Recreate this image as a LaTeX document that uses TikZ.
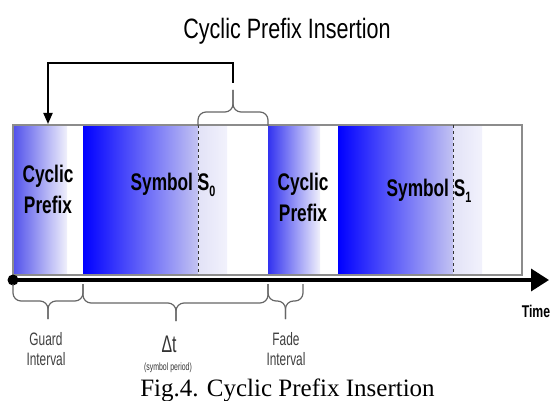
\documentclass[tikz,border=0pt]{standalone}
\usepackage{fontspec}
\setmainfont{Liberation Serif}
\newfontfamily\nar[FakeStretch=0.72]{Liberation Sans}
\newfontfamily\narb[FakeStretch=0.66]{Liberation Sans}
\newfontfamily\nart[FakeStretch=0.77]{Liberation Sans}
\usetikzlibrary{arrows.meta}
\definecolor{cpL}{RGB}{80,80,235}
\definecolor{cpLb}{RGB}{50,50,240}
\definecolor{cpR}{RGB}{240,240,251}
\definecolor{sR}{RGB}{195,195,242}
\definecolor{sRa}{RGB}{226,226,247}
\definecolor{sRb}{RGB}{242,242,252}
\begin{document}
\begin{tikzpicture}[x=1pt,y=-1pt,
  lbl/.style={font=\nar\bfseries\fontsize{24}{28}\selectfont, inner sep=0, anchor=base},
  sublbl/.style={font=\narb\fontsize{18}{20}\selectfont, text=black!75, inner sep=0, anchor=base},
  brc/.style={draw=black!60, line width=1.2pt, rounded corners=8pt},
  dashline/.style={dashed, draw=black!80, line width=0.7pt}]
\useasboundingbox (0,0) rectangle (551,401);
% title
\node[font=\nart\fontsize{28}{30}\selectfont, anchor=base, inner sep=0] (title) at (287,39) {Cyclic Prefix Insertion};
% blocks
\shade[left color=cpL, right color=cpR] (13,125) rectangle (67,275);
\shade[left color=blue, right color=sR] (83,125) rectangle (198,275);
\shade[left color=sRa, right color=sRb] (198,125) rectangle (227,275);
\shade[left color=cpLb, right color=cpR] (268,125) rectangle (320,275);
\shade[left color=blue, right color=sR] (338,125) rectangle (453,275);
\shade[left color=sRa, right color=sRb] (453,125) rectangle (482,275);
\draw[black!45, line width=1.5pt] (13,125) rectangle (522,275);
\draw[dashline] (198,125) -- (198,275);
\draw[dashline] (453,125) -- (453,275);
% labels in blocks
\node[lbl] (cp1a) at (48,182) {Cyclic};
\node[lbl] (cp1b) at (48,213) {Prefix};
\node[lbl] (s0) at (173,190) {Symbol S\raisebox{-0.28em}{\fontsize{15}{15}\selectfont 0}};
\node[lbl] (cp2a) at (303,190) {Cyclic};
\node[lbl] (cp2b) at (303,221) {Prefix};
\node[lbl] (s1) at (429,196) {Symbol S\raisebox{-0.28em}{\fontsize{15}{15}\selectfont 1}};
% top brace and arrow
\draw[brc] (198,126) |- (233,112) -- (233,90);
\draw[brc] (268,126) |- (233,112) -- (233,90);
\coordinate (btip) at (233,83);
\coordinate (cptop) at (48,124);
\draw[line width=2pt, -{Triangle[length=11pt,width=9pt]}] (btip) -- ++(0,-20) -| (cptop);
% time axis
\node[circle, fill=black, minimum size=11pt, inner sep=0] (origin) at (13,280) {};
\coordinate (tend) at (549,280);
\draw[line width=3.5pt, -{Triangle[length=18pt,width=22pt]}] (origin.center) -- (tend);
\node[font=\nar\bfseries\fontsize{17}{19}\selectfont, anchor=base, inner sep=0] (time) at (536,317) {Time};
% bottom braces
\draw[brc] (13,284) |- (48,301) -- (48,319);
\draw[brc] (83,284) |- (48,301) -- (48,319);
\draw[brc] (83,284) |- (176,303) -- (176,321);
\draw[brc] (268,284) |- (176,303) -- (176,321);
\draw[brc] (268,284) |- (285.5,301) -- (285.5,319);
\draw[brc] (303,284) |- (285.5,301) -- (285.5,319);
% bottom labels
\node[sublbl] (ga) at (46,345) {Guard};
\node[sublbl] (gb) at (46,365) {Interval};
\node[font=\narb\fontsize{24}{26}\selectfont, text=black!80, anchor=base, inner sep=0] (dt) at (169,352) {Δt};
\node[font=\narb\fontsize{10.5}{12}\selectfont, text=black!80, anchor=base, inner sep=0] (sp) at (168,370) {(symbol period)};
\node[sublbl] (fa) at (286,345) {Fade};
\node[sublbl] (fb) at (286,365) {Interval};
% caption
\node[font=\fontsize{25}{28}\selectfont, anchor=base, inner sep=0] (cap) at (287.5,396) {Fig.4. Cyclic Prefix Insertion};
\end{tikzpicture}
\end{document}
